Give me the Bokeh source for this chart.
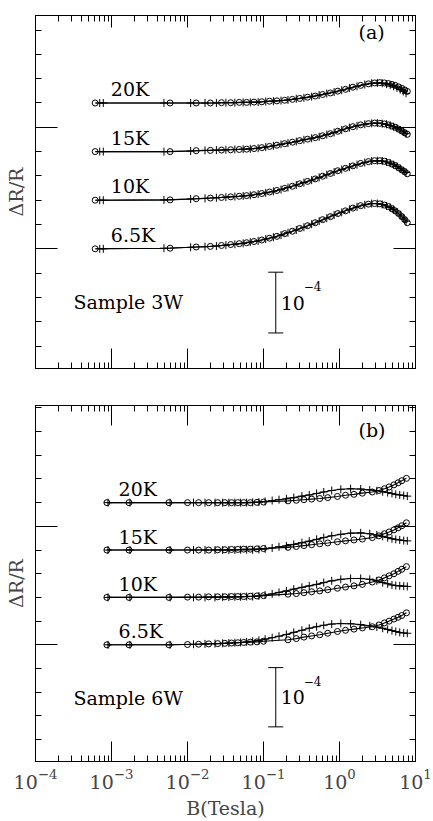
from bokeh.plotting import figure
from bokeh.layouts import column
from bokeh.models import (FixedTicker, LinearAxis, LogAxis, Range1d,
                          CustomJSTickFormatter, LogTickFormatter)
from bokeh.core.properties import value
from bokeh.embed import file_html
from bokeh.resources import INLINE

# ---------------- data (ΔR/R in units of 1e-5, B in Tesla) ----------------
TEMPS = ["6.5K", "10K", "15K", "20K"]
OFFSETS = [0, 8, 16, 24]          # vertical shift of each curve (1e-5)
X_DECADES = [1e-4, 1e-3, 1e-2, 1e-1, 1e0, 1e1]
Y_MAJOR = [0, 20]
Y_MINOR = [-16, -12, -8, -4, 4, 8, 12, 16, 24, 28, 32, 36, 40]

# panel (a) : sample 3W
A_B_CIRC = [6.1e-4, 5.9e-3, 1.3e-2, 2.0e-2, 2.8e-2, 3.7e-2, 4.8e-2, 6.0e-2, 7.5e-2, 9.5e-2,
            0.12, 0.15, 0.19, 0.24, 0.30, 0.38, 0.48, 0.60, 0.76, 0.95,
            1.2, 1.5, 1.9, 2.4, 2.9, 3.4, 3.9, 4.4, 4.9, 5.4, 6.0, 6.6, 7.2, 7.8]
A_CIRC_65 = [0, 0.1, 0.3, 0.4, 0.55, 0.7, 0.85, 1.0, 1.2, 1.45,
             1.75, 2.05, 2.5, 2.9, 3.35, 3.8, 4.3, 4.8, 5.3, 5.8,
             6.25, 6.7, 7.1, 7.35, 7.45, 7.4, 7.2, 6.95, 6.6, 6.25, 5.8, 5.3, 4.8, 4.3]
A_CIRC_10 = [0, 0.05, 0.25, 0.35, 0.45, 0.55, 0.65, 0.75, 0.9, 1.1,
             1.35, 1.6, 1.95, 2.3, 2.7, 3.1, 3.5, 3.95, 4.4, 4.85,
             5.25, 5.65, 6.05, 6.35, 6.5, 6.5, 6.4, 6.2, 5.95, 5.7, 5.35, 5.0, 4.7, 4.35]
A_CIRC_15 = [0, 0, 0.15, 0.2, 0.25, 0.3, 0.35, 0.4, 0.5, 0.65,
             0.85, 1.05, 1.3, 1.55, 1.8, 2.05, 2.3, 2.6, 2.95, 3.35,
             3.75, 4.1, 4.4, 4.6, 4.7, 4.65, 4.55, 4.4, 4.2, 4.0, 3.7, 3.4, 3.1, 2.85]
A_CIRC_20 = [0, 0, 0, 0, 0.05, 0.05, 0.1, 0.1, 0.15, 0.2,
             0.3, 0.35, 0.45, 0.6, 0.75, 0.95, 1.15, 1.4, 1.65, 1.95,
             2.25, 2.6, 2.9, 3.15, 3.3, 3.35, 3.3, 3.2, 3.05, 2.9, 2.65, 2.4, 2.15, 1.9]

A_B_PLUS = [7.0e-4, 7.8e-4, 4.9e-3, 1.1e-2, 1.7e-2, 2.4e-2, 3.2e-2, 4.2e-2, 5.4e-2, 6.7e-2,
            8.5e-2, 0.107, 0.135, 0.17, 0.21, 0.27, 0.34, 0.43, 0.54, 0.68,
            0.85, 1.07, 1.35, 1.7, 2.15, 2.65, 3.15, 3.65, 4.15, 4.65,
            5.15, 5.7, 6.3, 6.9, 7.5]
A_PLUS_65 = [0, 0, 0.1, 0.25, 0.35, 0.45, 0.6, 0.75, 0.9, 1.1,
             1.3, 1.6, 1.9, 2.25, 2.65, 3.1, 3.55, 4.05, 4.55, 5.05,
             5.55, 6.0, 6.5, 6.9, 7.25, 7.45, 7.45, 7.3, 7.05, 6.8,
             6.45, 6.05, 5.55, 5.05, 4.55]
A_PLUS_10 = [0, 0, 0.05, 0.2, 0.3, 0.4, 0.5, 0.6, 0.7, 0.8,
             1.0, 1.2, 1.45, 1.75, 2.1, 2.5, 2.9, 3.3, 3.75, 4.2,
             4.65, 5.05, 5.45, 5.85, 6.2, 6.45, 6.5, 6.45, 6.3, 6.1,
             5.85, 5.55, 5.2, 4.85, 4.55]
A_PLUS_15 = [0, 0, 0, 0.1, 0.2, 0.25, 0.3, 0.35, 0.4, 0.45,
             0.55, 0.75, 0.95, 1.2, 1.4, 1.65, 1.95, 2.2, 2.45, 2.8,
             3.15, 3.55, 3.95, 4.25, 4.5, 4.65, 4.7, 4.6, 4.5, 4.3,
             4.1, 3.85, 3.55, 3.25, 2.95]
A_PLUS_20 = [0, 0, 0, 0, 0, 0, 0.05, 0.05, 0.1, 0.1,
             0.15, 0.25, 0.3, 0.4, 0.5, 0.7, 0.85, 1.05, 1.3, 1.55,
             1.8, 2.1, 2.45, 2.75, 3.05, 3.25, 3.3, 3.25, 3.1, 2.95,
             2.75, 2.5, 2.2, 1.9, 1.6]

# panel (b) : sample 6W
B_B_CIRC = [8.7e-4, 1.7e-3, 5.7e-3, 1.0e-2, 1.4e-2, 1.9e-2, 2.5e-2, 3.1e-2, 3.8e-2, 4.6e-2,
            5.5e-2, 6.7e-2, 8.2e-2, 0.1, 0.21, 0.27, 0.34, 0.43, 0.55, 0.7,
            0.94, 1.2, 1.55, 2.0, 2.7, 3.3, 3.9, 4.5, 5.2, 5.9, 6.6, 7.6]
B_CIRC_65 = [0, 0, 0, 0.05, 0.1, 0.15, 0.2, 0.25, 0.3, 0.35,
             0.4, 0.45, 0.5, 0.6, 0.85, 1.05, 1.3, 1.5, 1.7, 1.95,
             2.25, 2.45, 2.65, 2.85, 3.05, 3.35, 3.7, 4.0, 4.35, 4.65, 4.95, 5.4]
B_CIRC_10 = [0, 0, 0, 0.05, 0.05, 0.1, 0.1, 0.1, 0.15, 0.15,
             0.15, 0.2, 0.25, 0.3, 0.55, 0.65, 0.8, 0.95, 1.1, 1.3,
             1.55, 1.75, 1.95, 2.2, 2.6, 2.95, 3.3, 3.65, 4.0, 4.4, 4.75, 5.2]
B_CIRC_15 = [0, 0, 0, 0, 0, 0, 0.05, 0.05, 0.1, 0.1,
             0.15, 0.15, 0.2, 0.25, 0.45, 0.6, 0.75, 0.9, 1.05, 1.2,
             1.4, 1.55, 1.7, 1.85, 2.1, 2.4, 2.75, 3.05, 3.4, 3.75, 4.1, 4.6]
B_CIRC_20 = [0, 0, 0, 0, 0, 0, 0, 0, 0, 0,
             0, 0, 0.05, 0.1, 0.3, 0.4, 0.5, 0.6, 0.7, 0.85,
             1.05, 1.25, 1.4, 1.6, 1.8, 2.05, 2.35, 2.65, 3.0, 3.35, 3.7, 4.1]

B_B_PLUS = [9.0e-4, 1.75e-3, 5.9e-3, 1.2e-2, 1.7e-2, 2.3e-2, 2.9e-2, 3.5e-2, 4.2e-2, 5.0e-2,
            6.0e-2, 7.2e-2, 8.7e-2, 0.105, 0.13, 0.16, 0.2, 0.25, 0.32, 0.4,
            0.5, 0.62, 0.79, 1.04, 1.4, 1.9, 2.5, 3.1, 3.7, 4.3,
            4.9, 5.5, 6.2, 7.0, 7.8]
B_PLUS_65 = [0, 0, 0, 0.1, 0.15, 0.2, 0.25, 0.3, 0.35, 0.4,
             0.5, 0.6, 0.75, 0.95, 1.2, 1.45, 1.75, 2.1, 2.45, 2.8,
             3.05, 3.3, 3.5, 3.6, 3.55, 3.4, 3.2, 3.0, 2.8, 2.6,
             2.4, 2.25, 2.1, 2.0, 1.95]
B_PLUS_10 = [0, 0, 0, 0, 0, 0, 0.05, 0.05, 0.1, 0.1,
             0.15, 0.15, 0.25, 0.4, 0.6, 0.85, 1.1, 1.4, 1.7, 1.95,
             2.2, 2.5, 2.8, 3.05, 3.2, 3.2, 3.05, 2.8, 2.5, 2.3,
             2.1, 2.0, 1.95, 1.9, 1.85]
B_PLUS_15 = [0, 0, 0, 0, 0, 0, 0, 0, 0, 0.05,
             0.05, 0.05, 0.1, 0.2, 0.35, 0.55, 0.7, 0.95, 1.25, 1.5,
             1.8, 2.1, 2.4, 2.65, 2.85, 2.9, 2.75, 2.55, 2.3, 2.1,
             1.9, 1.8, 1.7, 1.6, 1.55]
B_PLUS_20 = [0, 0, 0, 0, 0, 0, 0, 0, 0, 0,
             0, 0.05, 0.1, 0.2, 0.35, 0.5, 0.65, 0.85, 1.1, 1.3,
             1.55, 1.8, 2.05, 2.25, 2.35, 2.3, 2.15, 2.0, 1.85, 1.7,
             1.55, 1.4, 1.3, 1.2, 1.1]

SCALE_BAR = 10.0        # 1e-4 in units of 1e-5
# ---------------------------------------------------------------------------

FONT = "DejaVu Serif"
FS = "19px"
X_MINOR = [k * d for d in X_DECADES[:-1] for k in range(2, 10)]
LABEL_LIFT = 2.27       # temperature labels sit a little above their curve


def hidden():
    return CustomJSTickFormatter(code="return ''")


def style(ax, major_in, minor_in=6):
    ax.major_tick_in = major_in
    ax.major_tick_out = 0
    ax.minor_tick_in = minor_in
    ax.minor_tick_out = 0
    ax.axis_line_color = "black"
    ax.major_tick_line_color = "black"
    ax.minor_tick_line_color = "black"
    ax.major_label_standoff = 0


def panel(ylo, yhi, height, top, bottom, bc, bp, circ, plus, letter, letter_y,
          sample, sample_y, tx, show_x, top_major):
    p = figure(width=433, height=height, x_axis_type="log",
               x_range=Range1d(1e-4, 10), y_range=Range1d(ylo, yhi),
               output_backend="svg", toolbar_location=None,
               x_axis_location=None, y_axis_location=None,
               min_border_left=35, min_border_right=18,
               min_border_top=top, min_border_bottom=bottom)
    p.outline_line_color = "black"
    p.outline_line_width = 1
    p.background_fill_color = "white"
    p.border_fill_color = "white"
    for g in p.grid:
        g.visible = False

    xt = FixedTicker(ticks=X_DECADES, minor_ticks=X_MINOR)
    yt = FixedTicker(ticks=Y_MAJOR, minor_ticks=Y_MINOR)

    xb = LogAxis(ticker=xt)
    style(xb, 20)
    if show_x:
        xb.formatter = LogTickFormatter()
        xb.major_label_text_font = FONT
        xb.major_label_text_font_size = FS
        xb.major_label_standoff = 7
        xb.axis_label = "B(Tesla)"
        xb.axis_label_text_font = FONT
        xb.axis_label_text_font_size = FS
        xb.axis_label_text_font_style = "normal"
        xb.axis_label_standoff = 5
    else:
        xb.formatter = hidden()
    p.add_layout(xb, "below")

    xa = LogAxis(ticker=xt, formatter=hidden())
    style(xa, top_major)
    p.add_layout(xa, "above")

    yl = LinearAxis(ticker=yt, formatter=hidden())
    style(yl, 22)
    yl.axis_label = "ΔR/R"
    yl.axis_label_text_font = FONT
    yl.axis_label_text_font_size = FS
    yl.axis_label_text_font_style = "normal"
    yl.axis_label_standoff = 9
    p.add_layout(yl, "left")

    yr = LinearAxis(ticker=yt, formatter=hidden())
    style(yr, 22)
    p.add_layout(yr, "right")

    for i, t in enumerate(TEMPS):
        yc = [v + OFFSETS[i] for v in circ[i]]
        yp = [v + OFFSETS[i] for v in plus[i]]
        p.line(bc, yc, line_color="black", line_width=1.1)
        p.line(bp, yp, line_color="black", line_width=1.1)
        p.scatter(bc, yc, marker="circle", size=6, fill_color=None,
                  line_color="black", line_width=1)
        p.scatter(bp, yp, marker="cross", size=8, line_color="black", line_width=1)
        p.text(x=[tx], y=[OFFSETS[i] + LABEL_LIFT], text=[t], text_font=value(FONT),
               text_font_size=FS, text_baseline="middle", text_color="black")

    p.text(x=[1.78], y=[letter_y], text=[letter], text_font=value(FONT),
           text_font_size=FS, text_baseline="middle", text_color="black")
    p.text(x=[3.16e-4], y=[sample_y], text=[sample], text_font=value(FONT),
           text_font_size=FS, text_baseline="middle", text_color="black")

    sb_x, sb_y0 = 0.145, -3.85
    sb_y1 = sb_y0 - SCALE_BAR
    p.segment(x0=[sb_x], y0=[sb_y0], x1=[sb_x], y1=[sb_y1], line_color="black", line_width=1)
    p.scatter([sb_x, sb_x], [sb_y0, sb_y1], marker="dash", size=15,
              line_color="black", line_width=1)
    mid = (sb_y0 + sb_y1) / 2
    p.text(x=[sb_x], y=[mid], text=["10"], text_font=value(FONT), text_font_size=FS,
           text_baseline="middle", x_offset=5, text_color="black")
    p.text(x=[sb_x], y=[mid + 2.7], text=["\u22124"], text_font=value(FONT),
           text_font_size="12px", text_baseline="middle", x_offset=28, text_color="black")
    return p


pa = panel(-19.7, 38.4, 386, 15, 18, A_B_CIRC, A_B_PLUS,
           [A_CIRC_65, A_CIRC_10, A_CIRC_15, A_CIRC_20],
           [A_PLUS_65, A_PLUS_10, A_PLUS_15, A_PLUS_20],
           "(a)", 35.7, "Sample 3W", -8.8, 9.8e-4, False, 12)
pb = panel(-19.7, 40.4, 435, 19, 57, B_B_CIRC, B_B_PLUS,
           [B_CIRC_65, B_CIRC_10, B_CIRC_15, B_CIRC_20],
           [B_PLUS_65, B_PLUS_10, B_PLUS_15, B_PLUS_20],
           "(b)", 36.2, "Sample 6W", -8.9, 1.24e-3, True, 20)

layout = column(pa, pb, spacing=0)
open("out.html", "w").write(file_html(layout, INLINE))
